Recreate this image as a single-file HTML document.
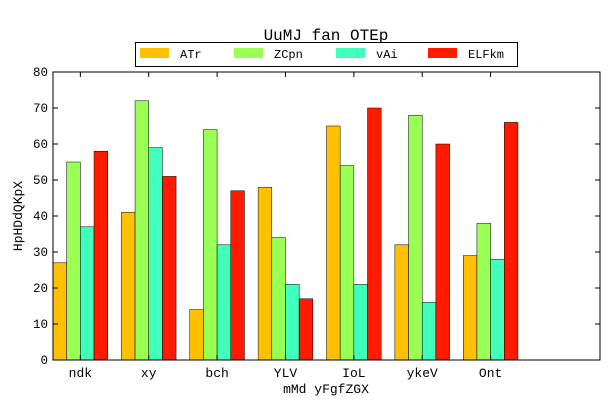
<!DOCTYPE html>
<html><head><meta charset="utf-8"><style>
body{margin:0;background:#fff}
svg{display:block;font-family:"Liberation Mono",monospace}
</style></head><body>
<svg id="c" width="612" height="408">
<rect width="612" height="408" fill="#fff"/>
<text x="326" y="40" font-size="16" text-anchor="middle">UuMJ fan OTEp</text>
<text x="326" y="393" font-size="13" text-anchor="middle">mMd yFgfZGX</text>
<text x="22" y="216" font-size="13" text-anchor="middle" transform="rotate(-90 22 216)">HpHDdQKpX</text>
<g id="bars"></g>
<rect x="53" y="72" width="547" height="288" fill="none" stroke="#000" stroke-width="1"/>
<g id="axes"></g>
<g>
<rect x="135.5" y="42.5" width="382" height="24" fill="#fff" stroke="#000"/>
<g id="legend"></g>
</g>
</svg>
<script>
const categories=["ndk","xy","bch","YLV","IoL","ykeV","Ont"];
const seriesNames=["ATr","ZCpn","vAi","ELFkm"];
const colors=["#ffc000","#99ff55","#40ffbb","#ff1a00"];
const sATr=[27,41,14,48,65,32,29];
const sZCpn=[55,72,64,34,54,68,38];
const svAi=[37,59,32,21,21,16,28];
const sELFkm=[58,51,47,17,70,60,66];
const yTicks=[0,10,20,30,40,50,60,70,80];
const series=[sATr,sZCpn,svAi,sELFkm];
const NS="http://www.w3.org/2000/svg";
const X0=53,X1=600,Y0=360,Y1=72;
const xs=u=>X0+u*(X1-X0)/8;
const ys=v=>Y0-v*(Y0-Y1)/80;
const bars=document.getElementById('bars'),axes=document.getElementById('axes'),leg=document.getElementById('legend');
function mk(t,a,p){const e=document.createElementNS(NS,t);for(const k in a)e.setAttribute(k,a[k]);p.appendChild(e);return e;}
series.forEach((s,j)=>{s.forEach((v,i)=>{
 const r=mk('rect',{x:xs(i+j*0.2),y:ys(v),width:xs(0.2)-xs(0),height:ys(0)-ys(v),fill:colors[j],stroke:'#000','stroke-width':0.5},bars);
 
 
});});
yTicks.forEach(v=>{
 const y=ys(v);
 mk('line',{x1:X0,x2:X0+5,y1:y,y2:y,stroke:'#000'},axes);
 mk('line',{x1:X1,x2:X1-5,y1:y,y2:y,stroke:'#000'},axes);
 const t=mk('text',{x:X0-5,y:y+4,'font-size':12.5,'text-anchor':'end'},axes);t.textContent=v;
 
 
});
categories.forEach((c,i)=>{
 const x=xs(i+0.4);
 mk('line',{x1:x,x2:x,y1:Y0,y2:Y0-5,stroke:'#000'},axes);
 mk('line',{x1:x,x2:x,y1:Y1,y2:Y1+5,stroke:'#000'},axes);
 const t=mk('text',{x:x,y:Y0+17,'font-size':13,'text-anchor':'middle'},axes);t.textContent=c;
 
 
});
const lx=[140,234,336,428];
seriesNames.forEach((n,j)=>{
 const r=mk('rect',{x:lx[j],y:48,width:29,height:10,fill:colors[j]},leg);
 
 
 const t=mk('text',{x:lx[j]+40,y:58,'font-size':12},leg);t.textContent=n;
 
 
});
</script>
</body></html>
